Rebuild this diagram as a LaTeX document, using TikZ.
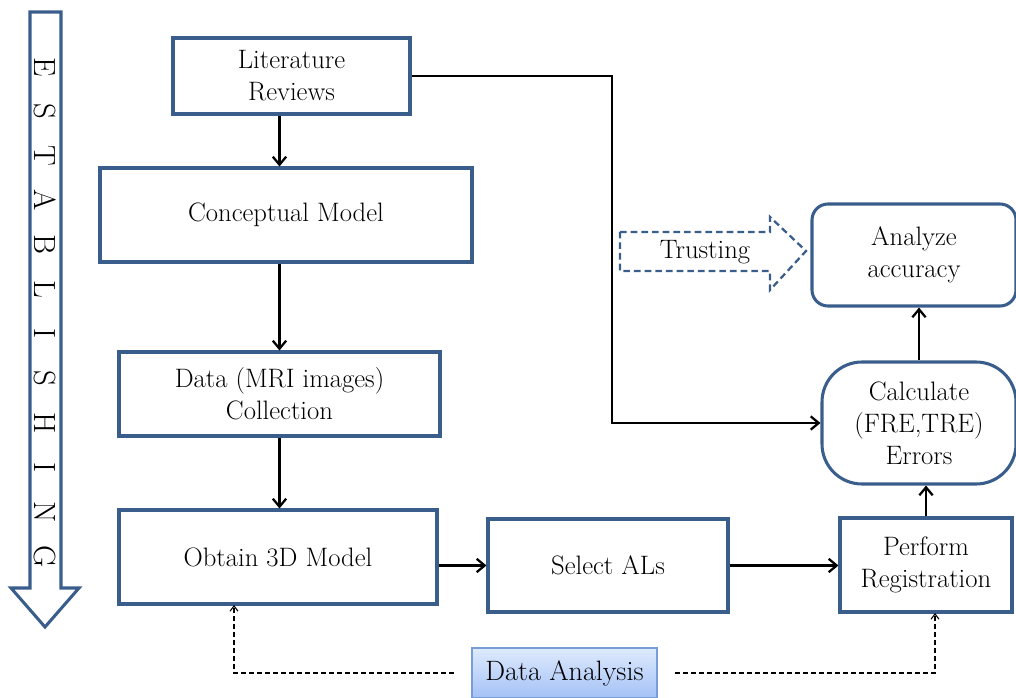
\documentclass[tikz,border=0pt]{standalone}
\usetikzlibrary{arrows.meta,calc}
\definecolor{bx}{RGB}{58,94,140}
\definecolor{gtop}{RGB}{222,234,253}
\definecolor{gbot}{RGB}{164,194,246}
\definecolor{gbd}{RGB}{120,156,212}
\begin{document}
\begin{tikzpicture}[x=0.75pt,y=-0.75pt,
  box/.style={draw=bx,line width=2.3pt,fill=white,align=center,inner sep=2pt,font=\fontsize{20}{24}\selectfont},
  conn/.style={line width=2.2pt,-{Straight Barb[length=6pt,width=10pt,line width=1.7pt]}},
  dconn/.style={line width=0.8pt,dash pattern=on 4pt off 2pt,-{Straight Barb[length=4pt,width=6pt,line width=0.8pt]}},
  letter/.style={rotate=-90,font=\fontsize{23}{23}\selectfont,inner sep=0pt}]
\useasboundingbox (0,0) rectangle (1016,698);
% big arrow
\draw[bx,line width=2.3pt,fill=white,line join=miter] (30,12) -- (61,12) -- (61,588) -- (79,588) -- (45,627) -- (11,588) -- (30,588) -- cycle;
\foreach \l [count=\i from 0] in {E,S,T,A,B,L,I,S,H,I,N,G}
  \node[letter] (let\i) at (45,{67+\i*44.5}) {\l};
% boxes
\node[box,minimum width=177.75pt,minimum height=57pt] (lit) at (291.5,76) {Literature\\Reviews};
\node[box,minimum width=279pt,minimum height=70.5pt] (concept) at (286,215) {Conceptual Model};
\node[box,minimum width=240.75pt,minimum height=63pt] (data) at (279.5,394) {Data (MRI images)\\Collection};
\node[box,minimum width=238.5pt,minimum height=70.5pt] (obtain) at (278,557) {Obtain 3D Model};
\node[box,minimum width=180pt,minimum height=69.75pt] (select) at (608,565.5) {Select ALs};
\node[box,minimum width=129pt,minimum height=70.5pt] (perform) at (926,565) {Perform\\Registration};
\node[box,rounded corners=30pt,minimum width=145.5pt,minimum height=91.5pt] (calc) at (919,423) {Calculate\\(FRE,TRE)\\Errors};
\node[box,rounded corners=12pt,minimum width=153pt,minimum height=76.5pt] (analyze) at (914,255) {Analyze\\accuracy};
\node[draw=gbd,line width=0.8pt,top color=gtop,bottom color=gbot,minimum width=138.75pt,minimum height=37.5pt,font=\fontsize{21}{24}\selectfont] (dataan) at (564.5,673) {Data Analysis};
% trusting arrow
\draw[bx,line width=1.7pt,dash pattern=on 5pt off 3pt] (620,232) -- (770,232) -- (770,217) -- (806,251) -- (770,290) -- (770,271) -- (620,271) -- cycle;
\node[font=\fontsize{20}{24}\selectfont] (trust) at (705,252) {Trusting};
% connectors
\draw[conn] (lit.south -| data.north) -- (concept.north -| data.north);
\draw[conn] (concept.south -| data.north) -- (data.north);
\draw[conn] (data.south) -- (data.south |- obtain.north);
\draw[conn] (obtain.east |- select.west) -- (select.west);
\draw[conn] (select.east) -- (select.east -| perform.west);
\draw[conn] (perform.north) -- (perform.north |- calc.south);
\draw[conn] (calc.north) -- (calc.north |- analyze.south);
\coordinate (bend) at (612,76);
\draw[conn] (lit.east) -- (bend) |- (calc.west);
\coordinate (oa) at (234,605);
\coordinate (pa) at (935,613);
\draw[dconn,shorten <=13pt] (dataan.west) -| (oa);
\draw[dconn,shorten <=13pt] (dataan.east) -| (pa);
\end{tikzpicture}
\end{document}
